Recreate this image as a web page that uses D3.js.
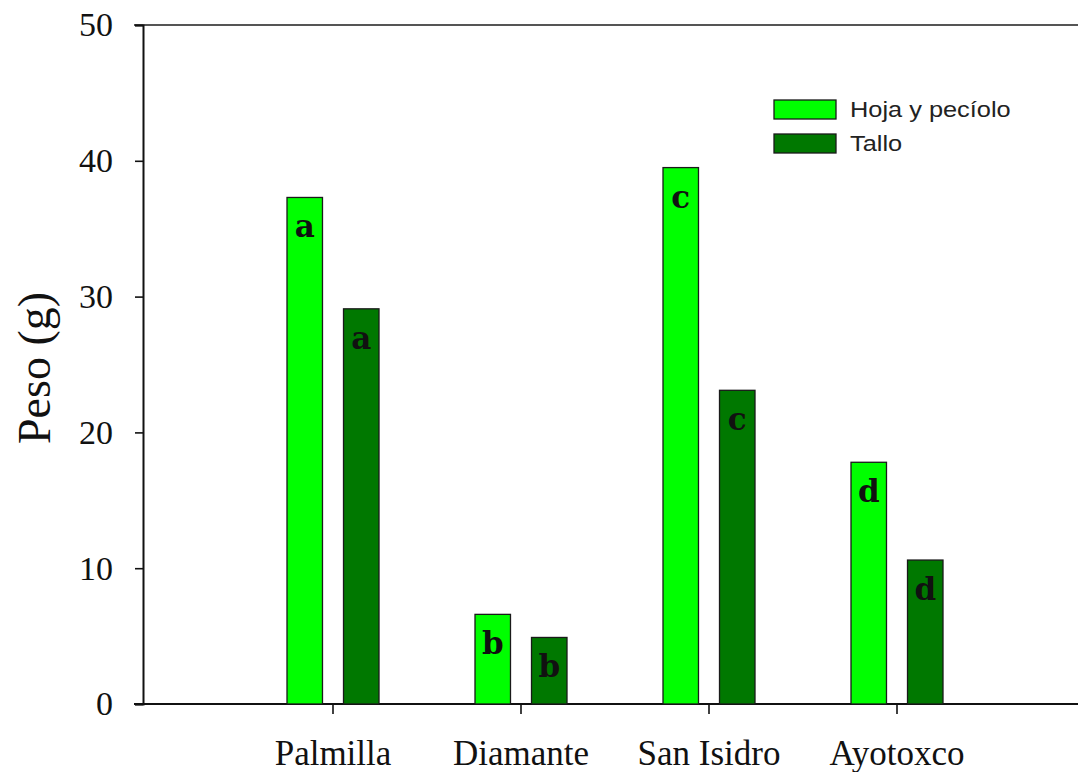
<!DOCTYPE html>
<html>
<head>
<meta charset="utf-8">
<script src="https://cdn.jsdelivr.net/npm/d3@7"></script>
<style>
  html, body { margin: 0; padding: 0; background: #fff; }
  svg { display: block; }
</style>
</head>
<body>
<svg id="chart" width="1078" height="772"></svg>
<script>
// Sites and dry-weight values (g) per plant part
const sites = ["Palmilla", "Diamante", "San Isidro", "Ayotoxco"];
const seriesNames = ["Hoja y pecíolo", "Tallo"];
const hojaValues = [37.3, 6.6, 39.5, 17.8];
const talloValues = [29.1, 4.9, 23.1, 10.6];
const hojaLetters = ["a", "b", "c", "d"];
const talloLetters = ["a", "b", "c", "d"];
const yTicks = [0, 10, 20, 30, 40, 50];

const colors = { "Hoja y pecíolo": "#00ff00", "Tallo": "#007800" };

const svg = d3.select("#chart");
const plotLeft = 143, plotTop = 25, plotBottom = 704, plotRight = 1078;
const serif = "'Liberation Serif', 'Times New Roman', serif";

const y = d3.scaleLinear().domain([0, 50]).range([plotBottom, plotTop]);
const x0 = d3.scaleBand().domain(sites).range([239, 991]).padding(0);
const x1 = d3.scaleBand().domain(seriesNames)
  .range([-46, 46]).paddingInner(0.372).paddingOuter(0);

const rows = sites.map((s, i) => ({
  site: s,
  bars: [
    { series: seriesNames[0], value: hojaValues[i], letter: hojaLetters[i] },
    { series: seriesNames[1], value: talloValues[i], letter: talloLetters[i] }
  ]
}));

// frame lines: top border and baseline run to the right edge
svg.append("line").attr("x1", 134).attr("x2", plotRight).attr("y1", plotTop).attr("y2", plotTop)
  .attr("stroke", "#555").attr("stroke-width", 2.2);
svg.append("line").attr("x1", 134).attr("x2", plotRight).attr("y1", plotBottom).attr("y2", plotBottom)
  .attr("stroke", "#111").attr("stroke-width", 2);

// y axis
const yAxis = svg.append("g").attr("transform", `translate(${plotLeft},0)`)
  .call(d3.axisLeft(y).tickValues(yTicks).tickSize(8).tickPadding(22));
yAxis.select(".domain").attr("stroke", "#111").attr("stroke-width", 2);
yAxis.selectAll(".tick line").attr("stroke", "#111").attr("stroke-width", 1.6);
yAxis.selectAll(".tick text")
  .attr("font-family", serif)
  .attr("font-size", 34).attr("fill", "#111");

// x axis (category ticks under each group)
const xAxis = svg.append("g").attr("transform", `translate(0,${plotBottom})`)
  .call(d3.axisBottom(x0).tickSize(10).tickPadding(26));
xAxis.select(".domain").remove();
xAxis.selectAll(".tick line").attr("stroke", "#111").attr("stroke-width", 1.6);
xAxis.selectAll(".tick text")
  .attr("font-family", serif)
  .attr("font-size", 35).attr("fill", "#111");

// bars
const groups = svg.append("g").selectAll("g").data(rows).join("g")
  .attr("transform", d => `translate(${x0(d.site) + x0.bandwidth() / 2},0)`);

groups.selectAll("rect").data(d => d.bars).join("rect")
  .attr("x", d => x1(d.series))
  .attr("width", x1.bandwidth())
  .attr("y", d => y(d.value))
  .attr("height", d => y(0) - y(d.value))
  .attr("fill", d => colors[d.series])
  .attr("stroke", "#1a1a1a").attr("stroke-width", 1.3);

// significance letters inside the bar tops
groups.selectAll("text.sig").data(d => d.bars).join("text")
  .attr("class", "sig")
  .attr("x", d => x1(d.series) + x1.bandwidth() / 2)
  .attr("y", d => y(d.value) + 40)
  .attr("text-anchor", "middle")
  .attr("font-family", "'DejaVu Serif', serif")
  .attr("font-weight", "bold")
  .attr("font-size", 31)
  .attr("fill", "#111")
  .text(d => d.letter);

// y axis title
svg.append("text")
  .attr("transform", "translate(50,368) rotate(-90)")
  .attr("text-anchor", "middle")
  .attr("font-family", serif)
  .attr("font-size", 46).attr("fill", "#111")
  .text("Peso (g)");

// legend
const legend = svg.append("g").attr("transform", "translate(774,100)");
const items = legend.selectAll("g").data(seriesNames).join("g")
  .attr("transform", (d, i) => `translate(0,${i * 34})`);
items.append("rect").attr("width", 62).attr("height", 19)
  .attr("fill", d => colors[d]).attr("stroke", "#1a1a1a").attr("stroke-width", 1.3);
items.append("text")
  .attr("transform", "translate(76,17) scale(1.18,1)")
  .attr("font-family", "'Liberation Sans', Arial, sans-serif")
  .attr("font-size", 21.5).attr("fill", "#222")
  .text(d => d);
</script>
</body>
</html>
